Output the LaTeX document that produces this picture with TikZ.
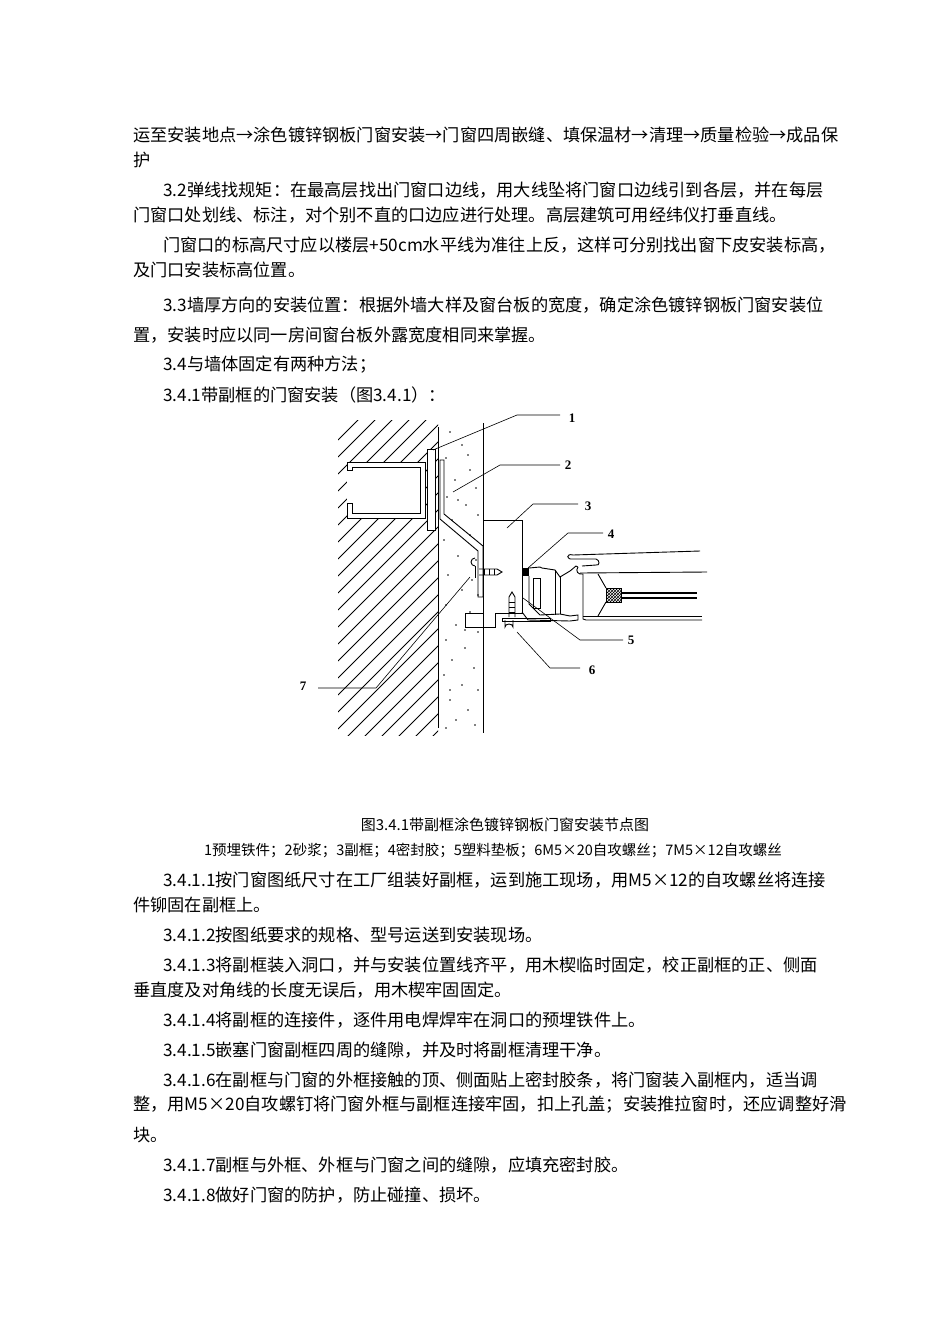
\documentclass[tikz,border=0pt]{standalone}
\usepackage{fontspec}
\setmainfont{Liberation Serif}
\newfontfamily\cjk{Noto Sans CJK SC}
\usetikzlibrary{patterns}
\begin{document}
\begin{tikzpicture}[x=1pt,y=-1pt,
  body/.style={anchor=west,inner sep=0pt,font=\cjk\fontsize{17.2}{17}\selectfont},
  captxt/.style={anchor=center,inner sep=0pt,font=\cjk\fontsize{15}{15}\selectfont},
  lbl/.style={inner sep=0pt,font=\fontsize{13}{13}\selectfont\bfseries},
  ln/.style={line width=0.9pt},
  ld/.style={line width=0.6pt}]
\useasboundingbox (0,0) rectangle (950,1344);
\fill[white] (0,0) rectangle (950,1344);
% text
\node[body] (t1) at (133,135) {运至安装地点→涂色镀锌钢板门窗安装→门窗四周嵌缝、填保温材→清理→质量检验→成品保};
\node[body] (t2) at (133,160) {护};
\node[body] (t3) at (163,190) {3.2弹线找规矩：在最高层找出门窗口边线，用大线坠将门窗口边线引到各层，并在每层};
\node[body] (t4) at (133,215) {门窗口处划线、标注，对个别不直的口边应进行处理。高层建筑可用经纬仪打垂直线。};
\node[body] (t5) at (163,245) {门窗口的标高尺寸应以楼层+50cm水平线为准往上反，这样可分别找出窗下皮安装标高，};
\node[body] (t6) at (133,270) {及门口安装标高位置。};
\node[body] (t7) at (163,305) {3.3墙厚方向的安装位置：根据外墙大样及窗台板的宽度，确定涂色镀锌钢板门窗安装位};
\node[body] (t8) at (133,335) {置，安装时应以同一房间窗台板外露宽度相同来掌握。};
\node[body] (t9) at (163,365) {3.4与墙体固定有两种方法；};
\node[body] (t10) at (163,395) {3.4.1带副框的门窗安装（图3.4.1）：};
\node[captxt] (c1) at (505,825) {图3.4.1带副框涂色镀锌钢板门窗安装节点图};
\node[captxt,font=\cjk\fontsize{14.5}{14.5}\selectfont] (c2) at (493,850) {1预埋铁件；2砂浆；3副框；4密封胶；5塑料垫板；6M5×20自攻螺丝；7M5×12自攻螺丝};
\node[body] (b1) at (163,880) {3.4.1.1按门窗图纸尺寸在工厂组装好副框，运到施工现场，用M5×12的自攻螺丝将连接};
\node[body] (b2) at (133,905) {件铆固在副框上。};
\node[body] (b3) at (163,935) {3.4.1.2按图纸要求的规格、型号运送到安装现场。};
\node[body] (b4) at (163,965) {3.4.1.3将副框装入洞口，并与安装位置线齐平，用木楔临时固定，校正副框的正、侧面};
\node[body] (b5) at (133,990) {垂直度及对角线的长度无误后，用木楔牢固固定。};
\node[body] (b6) at (163,1020) {3.4.1.4将副框的连接件，逐件用电焊焊牢在洞口的预埋铁件上。};
\node[body] (b7) at (163,1050) {3.4.1.5嵌塞门窗副框四周的缝隙，并及时将副框清理干净。};
\node[body] (b8) at (163,1080) {3.4.1.6在副框与门窗的外框接触的顶、侧面贴上密封胶条，将门窗装入副框内，适当调};
\node[body] (b9) at (133,1105) {整，用M5×20自攻螺钉将门窗外框与副框连接牢固，扣上孔盖；安装推拉窗时，还应调整好滑};
\node[body] (b10) at (133,1135) {块。};
\node[body] (b11) at (163,1165) {3.4.1.7副框与外框、外框与门窗之间的缝隙，应填充密封胶。};
\node[body] (b12) at (163,1195) {3.4.1.8做好门窗的防护，防止碰撞、损坏。};
% ---- drawing ----
\begin{scope}
\clip (338,420) rectangle (438,735);
\foreach \k in {0,...,24} {
  \draw[line width=0.8pt] (338,{440+\k*17}) -- ++(110,-110);
}
\end{scope}
\fill[white] (347,462) rectangle (425,518);
\draw[ln] (352,470) -- (347,470) -- (347,462) -- (425,462) -- (425,518) -- (347,518) -- (347,503) -- (352,503) -- (352,513) -- (420,513) -- (420,467) -- (352,467) -- cycle;
\draw[ln] (438,427) -- (438,728);
\foreach \px/\py in {450/432,462/445,446/458,470/470,455/480,476/488,447/497,466/505,478/515,452/520,444/540,470/535,458/556,476/560,448/575,462/590,478/595,446/605,470/612,456/625,478/632,446/640,465/648,452/660,474/668,444/675,462/685,478/690,450/700,468/710,456/720,475/725,446/728,468/455,458/500,472/580,450/690,465/630}
  \fill (\px,\py) circle (0.9pt);
\fill[white] (427,449) rectangle (435,530);
\draw[ln] (427,449) rectangle (435,530);
\draw[ln] (440,460) -- (444,460) -- (444,514) -- (483,546) -- (483,597) -- (478,597) -- (478,551) -- (440,519) -- cycle;
\fill[white] (483,520) rectangle (522,613);
\draw[ln] (483,520) -- (522,520) -- (522,613) -- (495,613) -- (495,627) -- (465,627) -- (465,613) -- (483,613);
\draw[ln] (483,423) -- (483,733);
\draw[ln] (475,566) arc (90:270:4) ;
\draw[ln] (475,566) -- (475,578);
\draw[ln] (479,569) -- (497,569) -- (502,572) -- (497,575) -- (479,575);
\foreach \i in {484,489,494} \draw (\i,569) -- (\i,575);
\draw[ln] (509,597) -- (509,617) (515,597) -- (515,617) (509,597) -- (512,592) -- (515,597);
\foreach \i in {602,607,612} \draw (509,\i) -- (515,\i);
\draw[ln] (505,620) -- (505,627) arc (180:360:4 and 3) -- (513,620);
\draw[ln] (502,618) -- (550,618) -- (550,621) -- (502,621) -- cycle;
\fill (522,568) rectangle (529,576);
\draw[ln] (529,568) -- (540,567) -- (542,568) -- (555,570) -- (560,577) -- (570,571) -- (576,566) -- (578,567);
\draw[ln] (529,576) -- (529,604) -- (540,615) -- (560,614) -- (570,616) -- (578,615) -- (578,620) -- (570,621) -- (528,620) -- (522,612);
\draw[ln] (533,578) -- (540,578) -- (540,608) -- (533,608) -- cycle;
\draw[ln] (555,570) -- (555,615);
\draw[ln] (560,577) -- (560,614);
\draw[ln] (573,555) .. controls (566,553) and (566,560) .. (573,559) -- (596,559) .. controls (600,560) and (600,566) .. (596,565) -- (582,566) ;
\draw[ln] (573,555) -- (700,551);
\draw[ln] (578,567) .. controls (575,571) and (578,575) .. (583,574) -- (583,619) -- (586,620) -- (702,620);
\draw[ln] (580,573) -- (707,572);
\draw[ln] (598,574) -- (606,588);
\draw[ln] (598,616) -- (606,602);
\draw[ln] (583,616) -- (702,616);
\draw[ln,pattern=crosshatch] (606,588) rectangle (621,602);
\draw[line width=1.3pt] (621,593) -- (697,593) (621,598) -- (697,598);
\draw[ld] (433,450) -- (517,415) -- (560,415); \node[lbl] (l1) at (572,418) {1};
\draw[ld] (453,492) -- (500,465) -- (560,465); \node[lbl] (l2) at (568,465) {2};
\draw[ld] (507,528) -- (533,504) -- (578,504); \node[lbl] (l3) at (588,506) {3};
\draw[ld] (528,568) -- (568,533) -- (603,533); \node[lbl] (l4) at (611,534) {4};
\draw[ld] (523,598) -- (580,640) -- (623,640); \node[lbl] (l5) at (631,640) {5};
\draw[ld] (517,632) -- (550,668) -- (580,668); \node[lbl] (l6) at (592,670) {6};
\draw[ld] (318,688) -- (376,688) -- (470,577); \node[lbl] (l7) at (303,686) {7};
\end{tikzpicture}
\end{document}
